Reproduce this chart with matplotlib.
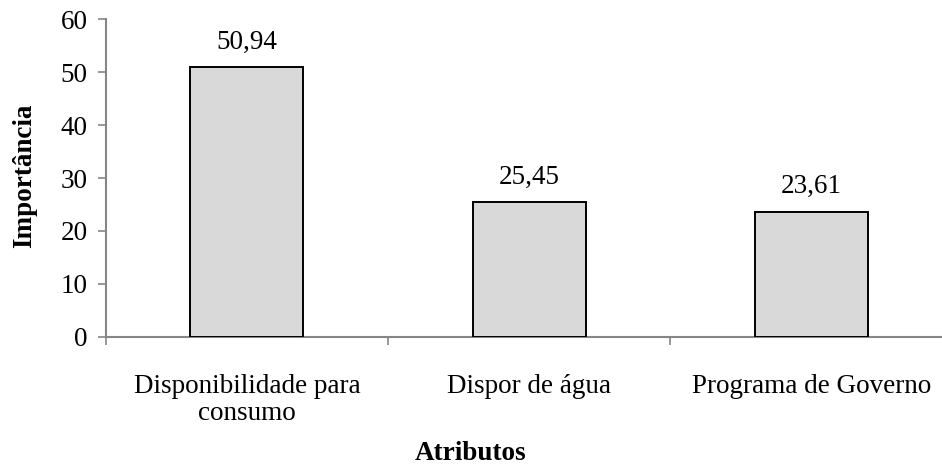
import matplotlib
matplotlib.use("Agg")
import matplotlib.pyplot as plt
import numpy as np

categorias = ["Disponibilidade para\nconsumo", "Dispor de água", "Programa de Governo"]
importancia = [50.94, 25.45, 23.61]
rotulos = ["50,94", "25,45", "23,61"]
y_ticks = [0, 10, 20, 30, 40, 50, 60]

plt.rcParams["font.family"] = ["Liberation Serif", "DejaVu Serif"]
fs = 19.5
plt.rcParams["font.size"] = fs

fig = plt.figure(figsize=(9.42, 4.70), dpi=100)
ax = fig.add_axes([0.1122, 0.2836, 0.899, 0.675])

x = np.arange(len(categorias))
ax.bar(x, importancia, width=0.40, color="#d9d9d9",
       edgecolor="black", linewidth=1.4, zorder=3)

for xi, v, txt in zip(x, importancia, rotulos):
    ax.text(xi, v + 2.4, txt, ha="center", va="bottom", fontsize=fs)

ax.set_xlim(-0.5, len(categorias) - 0.5)
ax.set_ylim(0, 60)
ax.set_yticks(y_ticks)
ax.set_yticklabels([str(t) for t in y_ticks])

ax.set_xticks(x)
ax.set_xticklabels(categorias, linespacing=1.1)
ax.set_xticks(np.arange(len(categorias) + 1) - 0.5, minor=True)
ax.tick_params(axis="x", which="major", length=0, pad=27)
ax.tick_params(axis="x", which="minor", length=6, width=1.2, color="#868686")
ax.tick_params(axis="y", length=6, width=1.2, color="#868686", pad=7)

for side in ("top", "right"):
    ax.spines[side].set_visible(False)
for side in ("left", "bottom"):
    ax.spines[side].set_color("#868686")
    ax.spines[side].set_linewidth(1.5)

fig.text(0.026, 0.625, "Importância", rotation=90, ha="center", va="center",
         fontweight="bold", fontsize=fs)
fig.text(0.5, 0.008, "Atributos", ha="center", va="bottom",
         fontweight="bold", fontsize=fs)

fig.savefig("out.png", dpi=100)
